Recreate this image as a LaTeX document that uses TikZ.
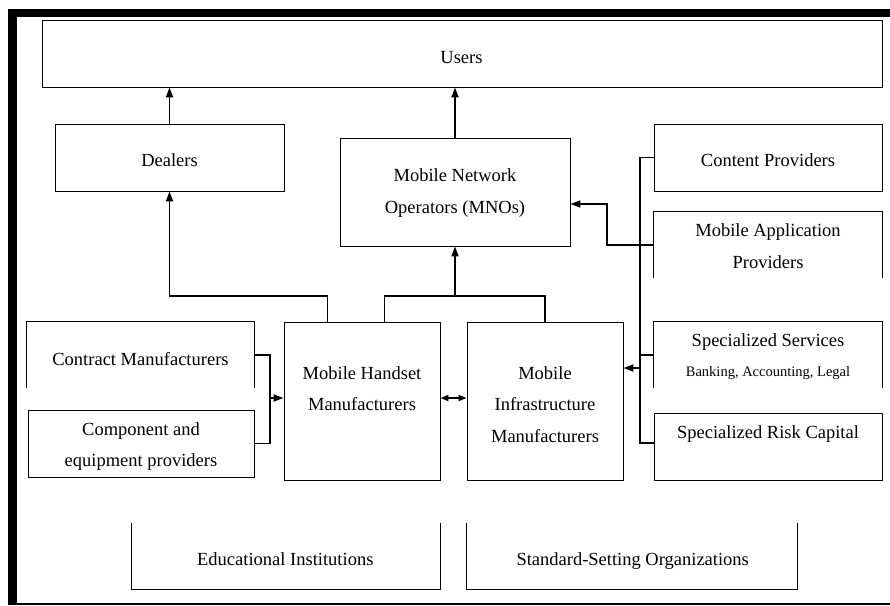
\documentclass[tikz,border=0pt]{standalone}
\usepackage{fontspec}
\setmainfont{Liberation Serif}
\usetikzlibrary{arrows.meta}
\begin{document}
\begin{tikzpicture}[x=1pt,y=-1pt,
  box/.style={draw, line width=0.9pt, rectangle, inner sep=0pt},
  obox/.style={rectangle, inner sep=0pt},
  side/.style={line width=0.9pt},
  txt/.style={inner sep=0pt, align=center, font=\fontsize{18.5}{31.5}\selectfont},
  smalltxt/.style={inner sep=0pt, font=\fontsize{14.5}{17}\selectfont},
  conn/.style={line width=1.8pt},
  arr/.style={conn, -{Triangle[length=10pt,width=7pt]}},
  dbl/.style={conn, {Triangle[length=8pt,width=6pt]}-{Triangle[length=8pt,width=6pt]}}
]
\useasboundingbox (0,0) rectangle (890,605);
% frame
\fill (8,9) rectangle (890,17);
\fill (8,9) rectangle (16.5,605);
\draw[line width=1.2pt] (16,604) -- (890,604);

% boxes
\node[box, minimum width=840pt, minimum height=67pt] (users) at (462,53.5) {};
\node[txt] (usersT) at (461.5,58) {Users};

\node[box, minimum width=229pt, minimum height=67pt] (dealers) at (169.5,157.5) {};
\node[txt] (dealersT) at (169.5,160) {Dealers};

\node[box, minimum width=230pt, minimum height=108pt] (mno) at (455,192) {};
\node[txt] (mnoT) at (455,193) {Mobile Network\\Operators (MNOs)};

\node[box, minimum width=228pt, minimum height=67pt] (content) at (768,157.5) {};
\node[txt] (contentT) at (768,160.4) {Content Providers};

\node[obox, minimum width=228pt, minimum height=66pt] (mapp) at (768,245) {};
\draw[side] (mapp.south west) |- (mapp.north east) -- (mapp.south east);
\node[txt] (mappT) at (768,246) {Mobile Application\\Providers};

\node[obox, minimum width=227pt, minimum height=66pt] (cm) at (140.5,355) {};
\draw[side] (cm.south west) |- (cm.north east) -- (cm.south east);
\node[txt] (cmT) at (140.5,359.4) {Contract Manufacturers};

\node[box, minimum width=226pt, minimum height=67pt] (comp) at (141,443.5) {};
\node[txt] (compT) at (141,446.5) {Component and\\equipment providers};

\node[box, minimum width=156pt, minimum height=158pt] (mh) at (362,401) {};
\node[txt] (mhT) at (362,388.5) {Mobile Handset\\Manufacturers};

\node[box, minimum width=156pt, minimum height=158pt] (mi) at (545,401) {};
\node[txt] (miT) at (545,404.3) {Mobile\\Infrastructure\\Manufacturers};

\node[obox, minimum width=228pt, minimum height=66pt] (ss) at (768,355) {};
\draw[side] (ss.south west) |- (ss.north east) -- (ss.south east);
\node[txt, anchor=base] (ssT) at (768,346.7) {Specialized Services};
\node[smalltxt, anchor=base] (ssS) at (768,376) {Banking, Accounting, Legal};

\node[box, minimum width=228pt, minimum height=67pt] (src) at (768,446.5) {};
\node[txt] (srcT) at (768,434) {Specialized Risk Capital};

\node[obox, minimum width=308pt, minimum height=66pt] (edu) at (286,556) {};
\draw[side] (edu.north west) |- (edu.south east) -- (edu.north east);
\node[txt] (eduT) at (285.3,558.7) {Educational Institutions};

\node[obox, minimum width=330pt, minimum height=66pt] (std) at (632,556) {};
\draw[side] (std.north west) |- (std.south east) -- (std.north east);
\node[txt] (stdT) at (632.7,560.7) {Standard-Setting Organizations};

% connectors
\coordinate (busY) at (0,296);
\draw[arr] (dealers.north) -- (users.south -| dealers.north);
\draw[arr] (mno.north) -- (users.south -| mno.north);
\path (mh.north west) ++(44,0) coordinate (mhL);
\draw[arr] (mhL) -- (mhL |- busY) -| (dealers.south);
\path (mh.north east) ++(-56,0) coordinate (mhR);
\draw[conn] (mhR) -- (mhR |- busY) -| (mi.north);
\draw[arr] (mno.south |- busY) -- (mno.south);

\coordinate (jL) at (270,398);
\draw[conn] (cm.east) -| (jL) |- (comp.east);
\draw[arr] (jL) -- (jL -| mh.west);
\draw[dbl] (mh.east |- jL) -- (mi.west |- jL);

\coordinate (rX) at (640,368);
\coordinate (rB) at (640,443);
\draw[conn] (content.west) -| (rB) -- (rB -| src.west);
\draw[conn] (ss.west) -- (ss.west -| rB);
\draw[arr] (rX) -- (rX -| mi.east);

\coordinate (ma) at (607,204);
\draw[arr] (mapp.west) -| (ma) -- (ma -| mno.east);
\end{tikzpicture}
\end{document}
